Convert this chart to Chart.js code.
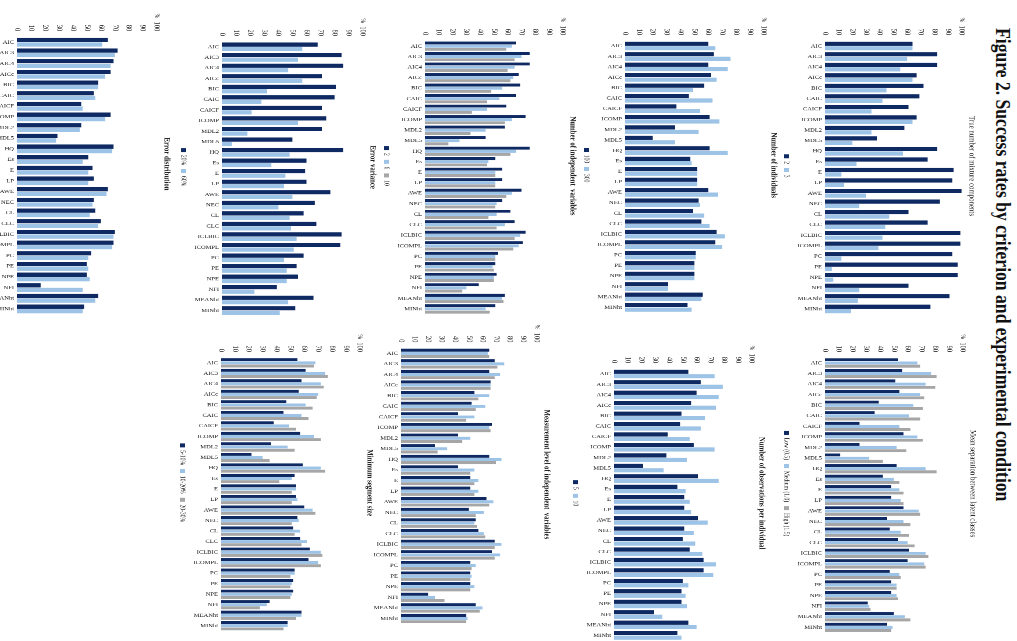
<!DOCTYPE html>
<html>
<head>
<meta charset="utf-8">
<script src="https://cdn.jsdelivr.net/npm/chart.js@4.4.1/dist/chart.umd.min.js"></script>
<style>
  html, body { margin: 0; padding: 0; background: #fff; overflow: hidden; width: 1017px; height: 641px; }
  /* the page is laid out upright, then squeezed a little and turned a quarter clockwise */
  #page { position: absolute; left: 0; top: 0; width: 802px; height: 1017px;
          transform-origin: 0 0; transform: translate(1017px, 0) rotate(90deg) scale(0.8, 1); }
  .panel { position: absolute; }
  .panel canvas { display: block; }
  #figTitle { position: absolute; left: 35px; top: 2px; white-space: nowrap; color: #111;
              font: bold 22px/24px "Liberation Serif", "Times New Roman", serif; }
</style>
</head>
<body>
<div id="page">
  <div id="figTitle">Figure 2. Success rates by criterion and experimental condition</div>
</div>
<script>
const criteria = ['AIC', 'AIC3', 'AIC4', 'AICc', 'BIC', 'CAIC', 'CAICF', 'ICOMP', 'MDL2', 'MDL5', 'HQ', 'Es', 'E',
  'LP', 'AWE', 'NEC', 'CL', 'CLC', 'ICLBIC', 'ICOMPL', 'PC', 'PE', 'NPE', 'NFI', 'MEANht', 'MINht'];

// True number of mixture components
const trueK2 = [64, 82, 82, 67, 72, 69, 61, 67, 58, 38, 82, 75, 94, 93, 100, 84, 61, 75, 99, 99, 93, 97, 97, 61, 91, 77];
const trueK3 = [64, 60, 55, 64, 45, 42, 34, 64, 34, 20, 57, 23, 12, 14, 30, 25, 47, 44, 42, 39, 12, 5, 6, 25, 24, 19];

// Mean separation between latent classes
const sepLow = [53, 56, 51, 54, 39, 36, 25, 57, 25, 11, 52, 42, 48, 48, 57, 45, 47, 53, 61, 60, 47, 48, 48, 31, 50, 45];
const sepMed = [67, 77, 73, 69, 64, 61, 54, 67, 52, 32, 73, 50, 54, 55, 68, 57, 55, 60, 73, 72, 54, 52, 52, 32, 58, 49];
const sepHigh = [69, 81, 80, 72, 71, 69, 62, 71, 59, 42, 81, 54, 57, 57, 69, 62, 61, 65, 75, 73, 55, 52, 53, 33, 62, 48];

// Number of individuals
const ind100 = [60, 64, 60, 62, 57, 46, 37, 61, 36, 20, 61, 47, 52, 52, 60, 53, 49, 55, 66, 65, 51, 50, 50, 31, 56, 45];
const ind300 = [65, 76, 74, 66, 49, 63, 54, 68, 53, 36, 74, 48, 52, 52, 67, 54, 57, 61, 72, 70, 51, 50, 50, 31, 55, 48];

// Number of observations per individual
const obs5 = [54, 63, 60, 56, 49, 48, 39, 58, 38, 21, 61, 46, 51, 51, 61, 51, 50, 55, 65, 65, 50, 49, 49, 29, 54, 46];
const obs10 = [73, 79, 76, 74, 66, 63, 55, 73, 53, 36, 76, 52, 55, 56, 68, 58, 59, 64, 74, 72, 54, 52, 53, 35, 60, 49];

// Number of independent variables
const ivar2 = [66, 76, 76, 68, 69, 66, 59, 73, 58, 44, 76, 51, 56, 56, 70, 56, 62, 65, 73, 71, 53, 51, 52, 39, 58, 51];
const ivar6 = [63, 70, 65, 64, 56, 54, 45, 63, 44, 25, 66, 46, 51, 51, 63, 52, 52, 58, 69, 68, 51, 49, 50, 30, 56, 44];
const ivar10 = [59, 65, 60, 62, 48, 45, 34, 58, 33, 17, 62, 45, 51, 51, 59, 51, 46, 52, 65, 64, 51, 50, 50, 27, 57, 47];

// Measurement level of independent variables (legend hidden in the source)
const meas1 = [65, 69, 65, 66, 54, 52, 42, 67, 42, 25, 65, 42, 51, 51, 63, 50, 55, 57, 69, 67, 51, 51, 51, 20, 55, 48];
const meas2 = [64, 76, 73, 66, 65, 62, 54, 65, 51, 34, 74, 54, 57, 57, 68, 61, 54, 61, 74, 73, 55, 52, 54, 25, 60, 49];
const meas3 = [65, 71, 69, 66, 57, 55, 48, 66, 45, 27, 70, 51, 54, 54, 65, 55, 56, 62, 69, 69, 52, 51, 51, 32, 58, 48];

// Error variance
const evar20 = [68, 85, 86, 71, 81, 80, 71, 74, 71, 50, 86, 60, 59, 60, 77, 66, 58, 67, 85, 84, 58, 53, 54, 39, 65, 52];
const evar60 = [57, 54, 47, 57, 32, 28, 21, 54, 18, 7, 48, 35, 45, 44, 50, 40, 48, 49, 53, 51, 44, 46, 46, 23, 47, 41];

// Minimum segment size
const seg5 = [55, 61, 58, 56, 47, 45, 38, 57, 36, 22, 59, 53, 54, 54, 60, 55, 52, 57, 64, 63, 53, 52, 52, 35, 58, 48];
const seg10 = [68, 75, 72, 70, 61, 58, 49, 67, 48, 30, 72, 51, 54, 55, 66, 56, 57, 62, 72, 70, 53, 51, 51, 33, 58, 48];
const seg20 = [67, 77, 74, 69, 66, 63, 54, 72, 53, 35, 75, 42, 51, 51, 68, 51, 53, 58, 73, 72, 50, 50, 50, 28, 54, 45];

// Error distribution (legend cut off in the source)
const dist1 = [65, 72, 69, 67, 58, 55, 46, 67, 46, 29, 69, 51, 54, 55, 65, 55, 56, 60, 70, 69, 53, 50, 50, 17, 58, 48];
const dist2 = [61, 70, 67, 63, 58, 56, 47, 63, 45, 28, 68, 47, 51, 51, 64, 54, 52, 58, 69, 68, 51, 51, 52, 47, 56, 47];

const COLORS = ['#0f2a63', '#9dc3e6', '#a6a6a6'];
const SX = 0.8;          // horizontal squeeze of the upright page
const SERIF = '"Liberation Serif", "Times New Roman", serif';

// plot box of each panel on the upright page: [left, right, top(100%), bottom(0%)]
const panels = [
  { title: 'True number of mixture components', bold: false, box: [40.4, 314, 55, 192],
    series: [['2', trueK2], ['3', trueK3]], legend: true },
  { title: 'Mean separation between latent classes', bold: false, box: [357.7, 631.8, 54, 192],
    series: [['Low (0.5)', sepLow], ['Medium (1.0)', sepMed], ['High (1.5)', sepHigh]], legend: true },
  { title: 'Number of individuals', bold: true, box: [41, 313, 253, 392],
    series: [['100', ind100], ['300', ind300]], legend: true },
  { title: 'Number of observations per individual', bold: true, box: [369, 641, 265, 403],
    series: [['5', obs5], ['10', obs10]], legend: true },
  { title: 'Number of independent  variables', bold: true, box: [41, 314, 454, 592],
    series: [['2', ivar2], ['6', ivar6], ['10', ivar10]], legend: true },
  { title: 'Measurement level of independent  variables', bold: true, box: [348, 624, 480, 616],
    series: [['Level 1', meas1], ['Level 2', meas2], ['Level 3', meas3]], legend: false },
  { title: 'Error variance', bold: true, box: [41.4, 316, 654, 795],
    series: [['20%', evar20], ['60%', evar60]], legend: true },
  { title: 'Minimum segment size', bold: true, box: [357.4, 631, 657, 796],
    series: [['5-10%', seg5], ['10-20%', seg10], ['20-30%', seg20]], legend: true },
  { title: 'Error distribution', bold: true, box: [37, 314, 860, 1000],
    series: [['Series 1', dist1], ['Series 2', dist2]], legend: false }
];

Chart.defaults.font.family = SERIF;
Chart.defaults.color = '#222';

const pctMark = {
  id: 'pctMark',
  afterDraw(chart) {
    const ctx = chart.ctx;
    ctx.save();
    ctx.font = '7px ' + SERIF;
    ctx.fillStyle = '#333';
    ctx.textAlign = 'left';
    ctx.textBaseline = 'middle';
    ctx.fillText('%', chart.chartArea.left - 29, chart.chartArea.top);
    ctx.restore();
  }
};

function makeChart(cv, p, w, h) {
  cv.width = w; cv.height = h;
  cv.style.width = w + 'px'; cv.style.height = h + 'px';
  const three = p.series.length === 3;
  return new Chart(cv, {
    type: 'bar',
    data: {
      labels: criteria,
      datasets: p.series.map(([label, data], i) => ({
        label, data,
        backgroundColor: COLORS[i],
        borderWidth: 0,
        categoryPercentage: three ? 0.9 : 0.86,
        barPercentage: 0.92
      }))
    },
    options: {
      responsive: false,
      animation: false,
      devicePixelRatio: 2,
      layout: { padding: 0 },
      scales: {
        x: {
          grid: { display: false, drawTicks: false }, border: { display: false },
          ticks: { autoSkip: false, minRotation: 90, maxRotation: 90, padding: 3, font: { size: 6.5 }, color: '#111' },
          afterFit: s => { s.height = 30; }
        },
        y: {
          min: 0, max: 100,
          grid: { display: false, drawTicks: false }, border: { display: false },
          ticks: { stepSize: 10, padding: 7, font: { size: 8 }, color: '#333' },
          afterFit: s => { s.width = 33; }
        }
      },
      plugins: {
        title: {
          display: true, text: p.title, color: '#222',
          font: { size: 8.5, weight: p.bold ? 'bold' : 'normal' },
          padding: { top: 2, bottom: 5 }
        },
        legend: {
          display: p.legend, position: 'bottom',
          labels: { boxWidth: 5, boxHeight: 5, padding: 5, font: { size: 7 }, color: '#222' }
        },
        tooltip: { enabled: false }
      }
    },
    plugins: [pctMark]
  });
}

const page = document.getElementById('page');
panels.forEach(p => {
  const [x0, x1, y0, y1] = p.box;
  const tw = (x1 - x0) / SX, th = y1 - y0;
  const wrap = document.createElement('div');
  wrap.className = 'panel';
  const cv = document.createElement('canvas');
  wrap.appendChild(cv);
  page.appendChild(wrap);

  // first pass only to learn how much room the axes, title and legend take
  let w = tw + 40, h = th + 70;
  let chart = makeChart(cv, p, w, h);
  let a = chart.chartArea;
  w += tw - (a.right - a.left);
  h += th - (a.bottom - a.top);
  chart.destroy();

  chart = makeChart(cv, p, w, h);
  a = chart.chartArea;
  wrap.style.left = (x0 / SX - a.left) + 'px';
  wrap.style.top = (y0 - a.top) + 'px';
});
</script>
</body>
</html>
